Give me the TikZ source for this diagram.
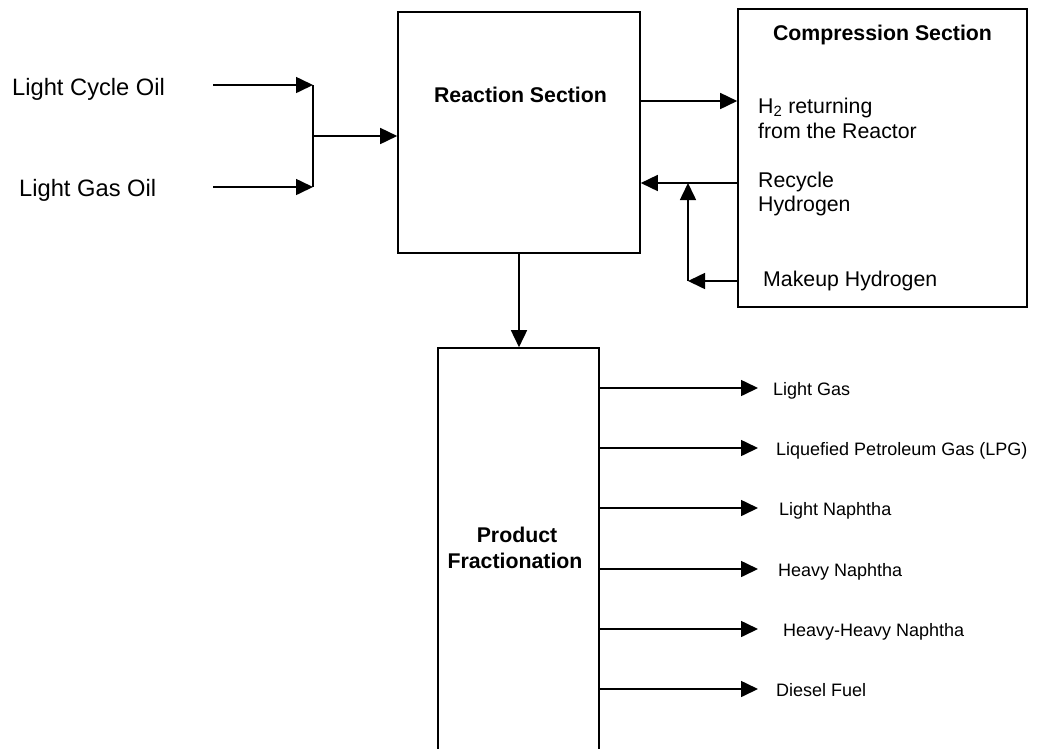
\documentclass[tikz,border=0pt]{standalone}
\usepackage{fontspec}
\setmainfont{Liberation Sans}
\usetikzlibrary{arrows.meta,calc}
\begin{document}
\begin{tikzpicture}[x=1pt,y=-1pt,
  box/.style={draw,line width=1.6pt,minimum width=#1,inner sep=0pt},
  flow/.style={line width=1.6pt,-{Triangle[length=17pt,width=16pt]}},
  pipe/.style={line width=1.6pt},
  lab/.style={anchor=base west,inner sep=0pt},
  big/.style={font=\fontsize{23.7}{28}\selectfont},
  mid/.style={font=\fontsize{21.3}{25}\selectfont},
  midb/.style={font=\fontsize{21.3}{25}\selectfont\bfseries},
  small/.style={font=\fontsize{18}{22}\selectfont}]
\useasboundingbox (0,0) rectangle (1039,748);
\clip (0,0) rectangle (1039,748);
% boxes
\node[box=242pt,minimum height=241pt] (reac) at (519,132.5) {};
\node[box=289pt,minimum height=298pt] (comp) at (882.5,158) {};
\node[box=161pt,minimum height=452pt] (prod) at (518.5,574) {};
% box titles
\node[midb,anchor=base,inner sep=0pt] (reactitle) at (520.5,102) {Reaction Section};
\node[midb,anchor=base,inner sep=0pt] (comptitle) at (882.5,40) {Compression Section};
\node[midb,anchor=base,inner sep=0pt] (prodt1) at (517,542) {Product};
\node[midb,anchor=base,inner sep=0pt] (prodt2) at (515,568) {Fractionation};
% feed labels
\node[big,lab] (lco) at (12,95) {Light Cycle Oil};
\node[big,lab] (lgo) at (19,196) {Light Gas Oil};
% feed lines
\coordinate (lcoS) at (213,85);
\coordinate (lgoS) at (213,187);
\coordinate (jT) at (313,85);
\coordinate (jB) at (313,187);
\coordinate (jM) at (313,136);
\draw[flow] (lcoS) -- (jT);
\draw[flow] (lgoS) -- (jB);
\draw[pipe] (jT) -- (jB);
\draw[flow] (jM) -- (jM -| reac.west);
% compression labels
\node[mid,lab] (h2a) at (758,113) {H\textsubscript{2} returning};
\node[mid,lab] (h2b) at (758,138) {from the Reactor};
\node[mid,lab] (rec1) at (758,187) {Recycle};
\node[mid,lab] (rec2) at (758,211) {Hydrogen};
\node[mid,lab] (mk) at (763,286) {Makeup Hydrogen};
% H2 return
\coordinate (h2y) at (0,101);
\draw[flow] (reac.east |- h2y) -- (comp.west |- h2y);
% recycle
\coordinate (recy) at (0,183);
\coordinate (rj) at (688,183);
\coordinate (mj) at (688,281);
\draw[flow] (comp.west |- recy) -- (reac.east |- recy);
\draw[flow] (comp.west |- mj) -- (mj);
\draw[flow] (mj) -- (rj);
% down arrow
\draw[flow] (reac.south) -- (reac.south |- prod.north);
% products
\foreach \y/\x/\t/\n in {388/773/Light Gas/p1,448/776/Liquefied Petroleum Gas (LPG)/p2,508/779/Light Naphtha/p3,569/778/Heavy Naphtha/p4,629/783/Heavy-Heavy Naphtha/p5,689/776/Diesel Fuel/p6}{
  \coordinate (\n e) at (758,\y);
  \draw[flow] (prod.east |- \n e) -- (\n e);
  \node[small,lab] (\n) at (\x,\y+7.5) {\t};
}
\end{tikzpicture}
\end{document}
